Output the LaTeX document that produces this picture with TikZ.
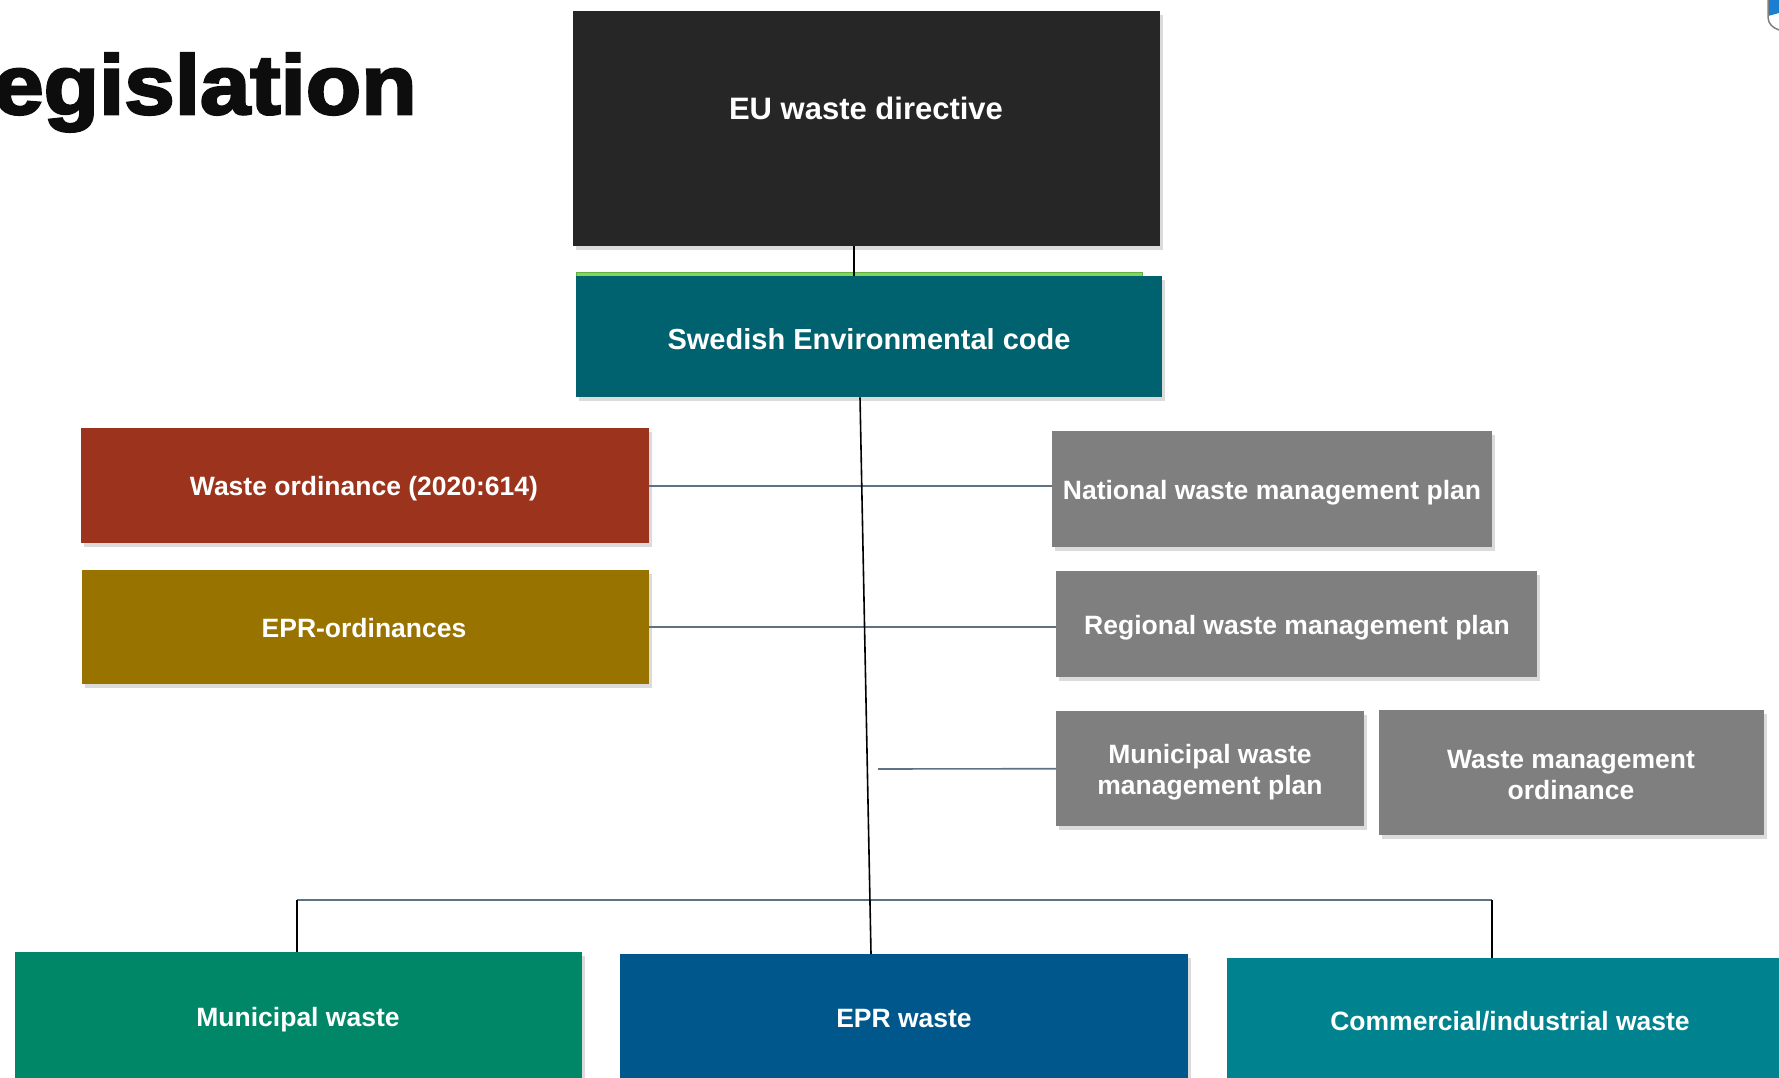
\documentclass[tikz,border=0pt]{standalone}
\usepackage{fontspec}
\setmainfont{Liberation Sans}
\newfontfamily\titlefont[FakeBold=3,FakeStretch=1.08]{Liberation Sans}
\usetikzlibrary{shadows}
\definecolor{euc}{HTML}{262626}
\definecolor{secc}{HTML}{00626E}
\definecolor{woc}{HTML}{9C331C}
\definecolor{eoc}{HTML}{997300}
\definecolor{grc}{HTML}{7F7F7F}
\definecolor{mwc}{HTML}{008768}
\definecolor{ewc}{HTML}{00578C}
\definecolor{cic}{HTML}{00838F}
\definecolor{linec}{HTML}{5E7286}
\definecolor{greenc}{HTML}{7ED957}
\definecolor{logoc}{HTML}{1A7FD0}
\begin{document}
\begin{tikzpicture}[x=1pt,y=-1pt,
  box/.style={draw=none, inner sep=0pt, anchor=north west,
    drop shadow={shadow xshift=3pt, shadow yshift=-4pt, opacity=0.28}},
  txt/.style={text=white, font=\bfseries\fontsize{26.5}{31}\selectfont, align=center, inner sep=0pt},
  conn/.style={draw=linec, line width=1.6pt},
  trunk/.style={draw=black, line width=1.6pt}]
\useasboundingbox (0,0) rectangle (1779,1078);
\clip (0,0) rectangle (1779,1078);
\fill[white] (0,0) rectangle (1779,1078);

% title
\node[anchor=base west, inner sep=0pt, text=black!95] (title) at (-7,114)
  {\titlefont\bfseries\fontsize{84}{84}\selectfont egislation};

% logo fragment
\fill[logoc] (1768,0) -- (1779,0) -- (1779,13) -- (1768,16) -- cycle;
\draw[gray, line width=1.5pt] (1768,0) -- (1768,17) .. controls (1768,24) and (1773,28) .. (1779,30);

% coordinates for connector ends
\coordinate (c1) at (854,0);
\coordinate (t1) at (860,0);
\coordinate (t2) at (871,0);
\coordinate (mpl) at (878,769);
\coordinate (busl) at (297,900);
\coordinate (busr) at (1492,900);

% boxes
\node[box, fill=euc, minimum width=587pt, minimum height=235pt] (eu) at (573,11) {};
\fill[greenc!80!black] (576,272) rectangle (1143,277);
\fill[greenc] (577,273) rectangle (1142,276);
\node[box, fill=secc, minimum width=586pt, minimum height=121pt] (sec) at (576,276) {};
\node[box, fill=woc, minimum width=568pt, minimum height=115pt] (wo) at (81,428) {};
\node[box, fill=eoc, minimum width=567pt, minimum height=114pt] (eo) at (82,570) {};
\node[box, fill=grc, minimum width=440pt, minimum height=116pt] (nat) at (1052,431) {};
\node[box, fill=grc, minimum width=481pt, minimum height=106pt] (reg) at (1056,571) {};
\node[box, fill=grc, minimum width=308pt, minimum height=115pt] (mp) at (1056,711) {};
\node[box, fill=grc, minimum width=385pt, minimum height=125pt] (wmo) at (1379,710) {};
\node[box, fill=mwc, minimum width=567pt, minimum height=140pt] (mw) at (15,952) {};
\node[box, fill=ewc, minimum width=568pt, minimum height=140pt] (ew) at (620,954) {};
\node[box, fill=cic, minimum width=570pt, minimum height=140pt] (ci) at (1227,958) {};

% connectors
\draw[trunk] (eu.south -| c1) -- (sec.north -| c1);
\draw[conn] (wo.east) -- (wo.east -| nat.west);
\draw[conn] (eo.east) -- (eo.east -| reg.west);
\draw[conn] (mpl) -- (mp.west);
\draw[conn] (busl) -- (busr);
\draw[trunk] (busl) -- (mw.north -| busl);
\draw[trunk] (busr) -- (ci.north -| busr);
\draw[trunk] (sec.south -| t1) -- (ew.north -| t2);

% texts
\node[txt, font=\bfseries\fontsize{31}{36}\selectfont] (teu) at (866,108) {EU waste directive};
\node[txt, font=\bfseries\fontsize{29}{34}\selectfont] (tsec) at (869,339) {Swedish Environmental code};
\node[txt] (two) at (364,489) {Waste ordinance (2020:614)};
\node[txt] (teo) at (364,628) {EPR-ordinances};
\node[txt] (tnat) at (1272,493) {National waste management plan};
\node[txt] (treg) at (1297,628) {Regional waste management plan};
\node[txt] (tmp) at (1210,772) {Municipal waste\\management plan};
\node[txt] (twmo) at (1571,775) {Waste management\\ordinance};
\node[txt] (tmw) at (298,1020) {Municipal waste};
\node[txt] (tew) at (904,1019) {EPR waste};
\node[txt] (tci) at (1510,1021) {Commercial/industrial waste};
\end{tikzpicture}
\end{document}
